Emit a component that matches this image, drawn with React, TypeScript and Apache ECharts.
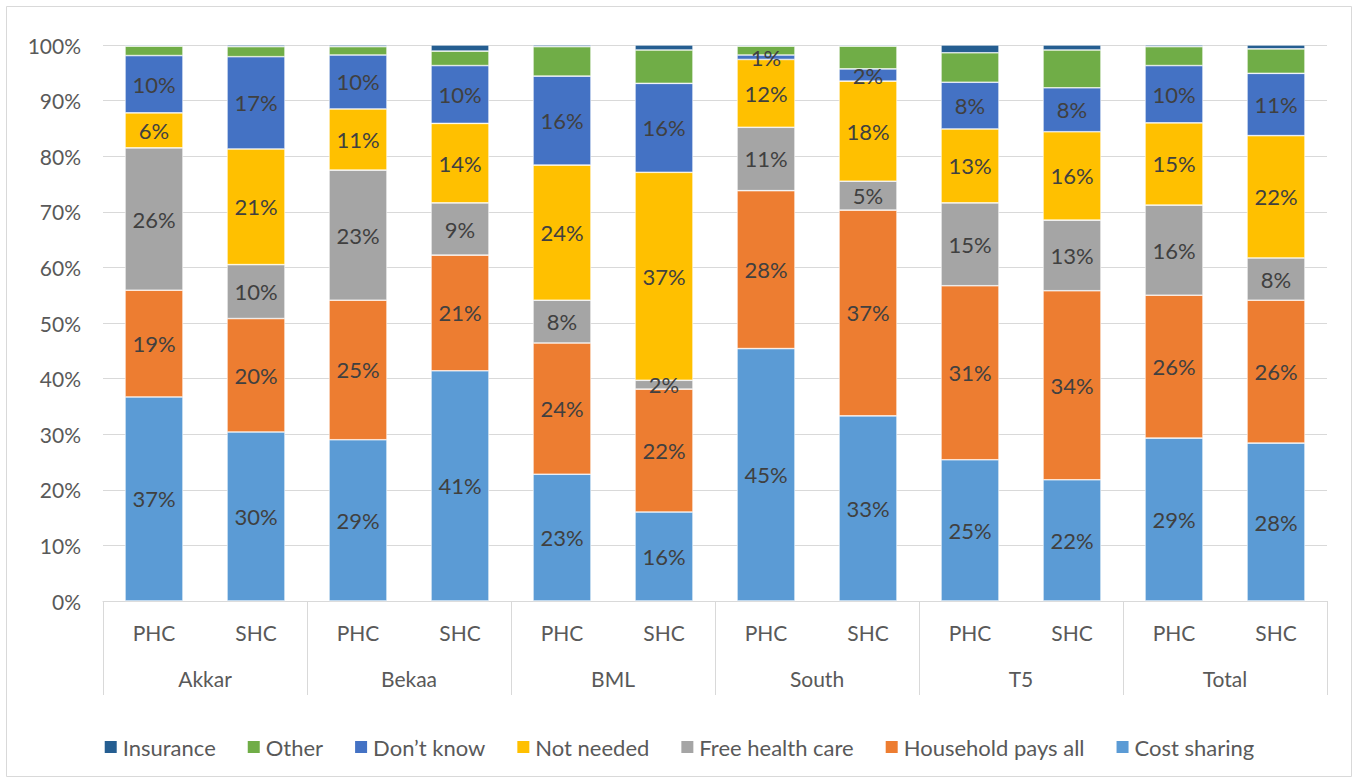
import React, { useEffect, useRef } from "react";
import * as echarts from "echarts";

const groups = ["Akkar", "Bekaa", "BML", "South", "T5", "Total"];
const facilities = ["PHC", "SHC", "PHC", "SHC", "PHC", "SHC", "PHC", "SHC", "PHC", "SHC", "PHC", "SHC"];
const yTicks = [0, 10, 20, 30, 40, 50, 60, 70, 80, 90, 100];

const costSharing = [36.7, 30.4, 29.0, 41.4, 22.8, 16.0, 45.4, 33.3, 25.4, 21.8, 29.3, 28.4];
const householdPaysAll = [19.2, 20.4, 25.1, 20.8, 23.6, 22.1, 28.4, 37.0, 31.3, 34.0, 25.7, 25.7];
const freeHealthCare = [25.6, 9.7, 23.4, 9.4, 7.7, 1.6, 11.4, 5.2, 14.9, 12.7, 16.2, 7.6];
const notNeeded = [6.3, 20.8, 11.0, 14.3, 24.3, 37.4, 12.2, 18.0, 13.3, 15.9, 14.8, 22.0];
const dontKnow = [10.3, 16.6, 9.7, 10.4, 16.0, 16.0, 0.8, 2.2, 8.4, 7.9, 10.3, 11.2];
const other = [1.7, 1.8, 1.5, 2.6, 5.3, 6.0, 1.6, 4.1, 5.3, 6.8, 3.4, 4.4];
const insurance = [0.2, 0.3, 0.3, 1.1, 0.3, 0.9, 0.2, 0.2, 1.4, 0.9, 0.3, 0.7];

const seriesDefs = [
  { name: "Cost sharing", data: costSharing, color: "#5B9BD5", label: true },
  { name: "Household pays all", data: householdPaysAll, color: "#ED7D31", label: true },
  { name: "Free health care", data: freeHealthCare, color: "#A5A5A5", label: true },
  { name: "Not needed", data: notNeeded, color: "#FFC000", label: true },
  { name: "Don\u2019t know", data: dontKnow, color: "#4472C4", label: true },
  { name: "Other", data: other, color: "#70AD47", label: false },
  { name: "Insurance", data: insurance, color: "#255E91", label: false },
];

const FONT = "Lato, 'Open Sans', sans-serif";

export default function App() {
  const ref = useRef<HTMLDivElement>(null);
  useEffect(() => {
    if (!ref.current) return;
    const chart = echarts.init(ref.current, null, { renderer: "svg" });
    chart.setOption({
      animation: false,
      backgroundColor: "#ffffff",
      textStyle: { fontFamily: FONT },
      graphic: [
        {
          type: "rect",
          shape: { x: 6.5, y: 6.5, width: 1345, height: 770 },
          style: { fill: "none", stroke: "#d9d9d9", lineWidth: 1 },
          silent: true,
        },
      ],
      grid: { left: 103, right: 30, top: 45, bottom: 177, containLabel: false },
      legend: {
        bottom: 15,
        left: "center",
        itemWidth: 14,
        itemHeight: 14,
        itemGap: 30,
        icon: "rect",
        textStyle: { fontFamily: FONT, fontSize: 22, color: "#595959" },
        data: seriesDefs.map((s) => s.name).reverse(),
      },
      xAxis: [
        {
          type: "category",
          data: facilities,
          position: "bottom",
          axisLine: { show: true, lineStyle: { color: "#d9d9d9", width: 1 } },
          axisTick: { show: false },
          axisLabel: { margin: 21, fontFamily: FONT, fontSize: 21, color: "#595959", interval: 0 },
        },
        {
          type: "category",
          data: groups,
          position: "bottom",
          axisLine: { show: false },
          axisTick: { show: true, length: 94, lineStyle: { color: "#d9d9d9", width: 1 } },
          axisLabel: { margin: 67, fontFamily: FONT, fontSize: 21, color: "#595959", interval: 0 },
        },
      ],
      yAxis: {
        type: "value",
        min: 0,
        max: 100,
        interval: 10,
        axisLine: { show: false },
        axisTick: { show: false },
        axisLabel: {
          margin: 22,
          fontFamily: FONT,
          fontSize: 21,
          color: "#595959",
          formatter: (v: number) => (yTicks.includes(v) ? v + "%" : ""),
        },
        splitLine: { lineStyle: { color: "#d9d9d9", width: 1 } },
      },
      series: seriesDefs.map((s) => ({
        name: s.name,
        type: "bar",
        stack: "total",
        xAxisIndex: 0,
        barWidth: 58,
        data: s.data,
        itemStyle: { color: s.color, borderColor: "#ffffff", borderWidth: 0.6 },
        label: {
          show: s.label,
          position: "inside",
          fontFamily: FONT,
          fontSize: 22,
          color: "#404040",
          formatter: (p: any) => Math.round(p.value) + "%",
        },
      })),
    });
    return () => chart.dispose();
  }, []);
  return (
    <div
      ref={ref}
      style={{ position: "fixed", left: 0, top: 0, width: 1357, height: 778, background: "#fff" }}
    />
  );
}
